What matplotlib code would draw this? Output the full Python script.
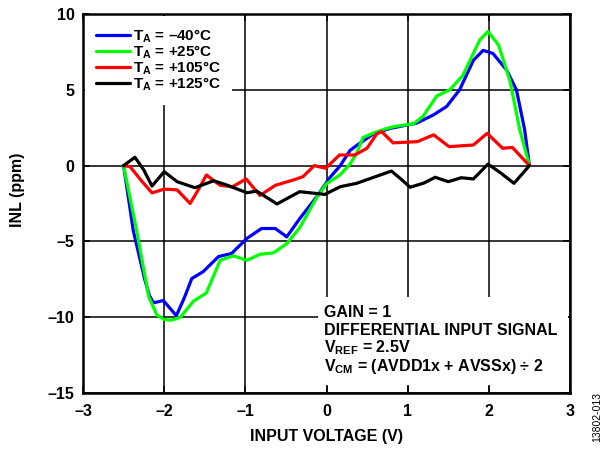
import matplotlib
matplotlib.use('Agg')
import matplotlib.pyplot as plt
from matplotlib.patches import Rectangle
from matplotlib.ticker import FuncFormatter

plt.rcParams['font.family'] = ['Liberation Sans', 'DejaVu Sans']
plt.rcParams['font.weight'] = 'bold'
plt.rcParams['mathtext.fontset'] = 'custom'
plt.rcParams['mathtext.rm'] = 'Liberation Sans:bold'
plt.rcParams['mathtext.bf'] = 'Liberation Sans:bold'

# INL curves, x in V, y in ppm
blue_x = [-2.5, -2.38, -2.24, -2.18, -2.13, -2.01, -1.85, -1.75, -1.66, -1.52, -1.33, -1.17, -0.98, -0.80,
          -0.63, -0.49, -0.33, -0.12, 0.04, 0.17, 0.29, 0.39, 0.58, 0.78, 1.11, 1.32, 1.48, 1.64,
          1.81, 1.93, 2.05, 2.22, 2.34, 2.44, 2.5]
blue_y = [0, -4.3, -7.5, -8.6, -9.05, -8.9, -9.9, -8.7, -7.45, -7.0, -6.0, -5.8, -4.8, -4.15,
          -4.15, -4.7, -3.5, -2.05, -0.8, 0.0, 1.0, 1.4, 2.1, 2.45, 2.8, 3.35, 3.9, 5.0,
          6.95, 7.6, 7.4, 6.3, 5.0, 2.4, 0]

green_x = [-2.5, -2.34, -2.19, -2.09, -2.0, -1.91, -1.80, -1.64, -1.48, -1.31, -1.15, -0.98, -0.82,
           -0.65, -0.49, -0.33, -0.12, 0.0, 0.17, 0.29, 0.37, 0.45, 0.58, 0.74, 0.86, 1.07,
           1.19, 1.36, 1.52, 1.68, 1.89, 1.99, 2.12, 2.26, 2.38, 2.5]
green_y = [0, -4.25, -8.65, -9.85, -10.15, -10.2, -10.0, -8.95, -8.4, -6.25, -5.95, -6.25, -5.85,
           -5.75, -5.15, -4.1, -2.1, -1.2, -0.6, 0.1, 0.8, 1.85, 2.15, 2.45, 2.6, 2.75,
           3.25, 4.6, 5.0, 5.95, 8.3, 8.85, 7.95, 5.6, 2.4, 0]

red_x = [-2.5, -2.42, -2.28, -2.15, -2.0, -1.84, -1.68, -1.58, -1.48, -1.31, -1.16, -0.99, -0.82,
         -0.63, -0.41, -0.29, -0.15, -0.01, 0.16, 0.35, 0.5, 0.62, 0.68, 0.82, 1.12, 1.32,
         1.51, 1.81, 1.98, 2.17, 2.29, 2.5]
red_y = [0, -0.07, -1.0, -1.8, -1.55, -1.6, -2.5, -1.6, -0.62, -1.3, -1.4, -0.88, -1.97,
         -1.3, -0.95, -0.73, 0.0, -0.18, 0.7, 0.7, 1.15, 2.1, 2.24, 1.5, 1.58, 2.03,
         1.25, 1.36, 2.13, 1.14, 1.2, 0]

black_x = [-2.5, -2.36, -2.25, -2.15, -2.0, -1.84, -1.62, -1.39, -1.23, -0.98, -0.86, -0.61, -0.33,
           -0.02, 0.17, 0.37, 0.54, 0.80, 0.92, 1.03, 1.2, 1.34, 1.50, 1.66, 1.81, 1.99, 2.15,
           2.31, 2.5]
black_y = [0, 0.55, -0.3, -1.35, -0.4, -1.06, -1.46, -1.0, -1.28, -1.79, -1.68, -2.53, -1.72,
           -1.9, -1.39, -1.17, -0.85, -0.36, -0.9, -1.43, -1.15, -0.77, -1.06, -0.8, -0.88, 0.1, -0.5,
           -1.17, 0]

labels = ['T$_\\mathrm{A}$ = –40°C', 'T$_\\mathrm{A}$ = +25°C',
          'T$_\\mathrm{A}$ = +105°C', 'T$_\\mathrm{A}$ = +125°C']
colors = ['#0000ff', '#00ff00', '#ff0000', '#000000']

fs = 11.5

fig = plt.figure(figsize=(6.11, 4.66), dpi=100)
ax = fig.add_axes([83/611, 1-393/466, 487/611, 379/466])

series = [(blue_x, blue_y), (green_x, green_y), (red_x, red_y), (black_x, black_y)]
for (xs, ys), c, lab in zip(series, colors, labels):
    ax.plot(xs, ys, color=c, lw=2.3, label=lab, solid_joinstyle='round', solid_capstyle='round', zorder=3)

ax.set_xlim(-3, 3)
ax.set_ylim(-15, 10)
ax.set_xticks(range(-3, 4))
ax.set_yticks(range(-15, 11, 5))
fmt = FuncFormatter(lambda v, p: ('%d' % v).replace('-', '–'))
ax.xaxis.set_major_formatter(fmt)
ax.yaxis.set_major_formatter(fmt)
ax.grid(True, color='black', lw=1.1, zorder=1)
ax.tick_params(direction='in', length=5, width=1.1, top=True, right=True, labelsize=fs)
ax.tick_params(axis='x', pad=8)
ax.tick_params(axis='y', pad=6)
for lab in ax.get_xticklabels() + ax.get_yticklabels():
    lab.set_fontweight('bold')
for s in ax.spines.values():
    s.set_linewidth(1.8)

ax.set_xlabel('INPUT VOLTAGE (V)', fontsize=fs, fontweight='bold')
ax.set_ylabel('INL (ppm)', fontsize=fs, fontweight='bold')
ax.xaxis.set_label_coords(0.5, -(429-393)/379)
ax.yaxis.set_label_coords(-(83-25)/487, (393-190)/379)

leg = ax.legend(loc='upper left', frameon=True, fancybox=False, framealpha=1, edgecolor='none',
                fontsize=11, handlelength=2.2, handletextpad=0.2, labelspacing=-0.1,
                borderaxespad=0.1, borderpad=0.75)
leg.get_frame().set_linewidth(0)

# white box behind the conditions text
ax.add_patch(Rectangle(((318-83)/487, (393-385)/379), (568-318)/487, (385-297)/379,
                       transform=ax.transAxes, facecolor='white', edgecolor='none', zorder=2))
notes = ['GAIN = 1', 'DIFFERENTIAL INPUT SIGNAL', 'V$_\\mathrm{REF}$ = 2.5V',
         'V$_\\mathrm{CM}$ = (AVDD1x + AVSSx) ÷ 2']
for i, t in enumerate(notes):
    ax.text(-0.03, -9.66 - i * 1.19, t, fontsize=fs, fontweight='bold', va='center', ha='left', zorder=4)

fig.text(597/611, 1-417/466, '13802-013', rotation=90, fontsize=7.5, fontweight='normal',
         ha='center', va='center')

fig.savefig('out.png', dpi=100)
